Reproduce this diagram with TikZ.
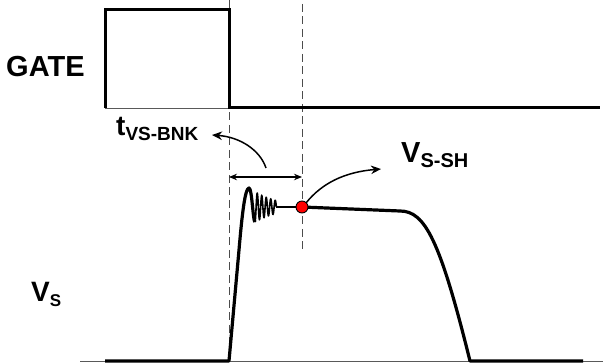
\documentclass[tikz,border=0pt]{standalone}
\usepackage{fontspec}
\setmainfont{Liberation Sans}
\usetikzlibrary{arrows.meta,positioning,calc}
\definecolor{dotcol}{RGB}{255,0,0}
\newcommand{\sublbl}[4]{{\fontsize{#3}{#3}\selectfont #1}\raisebox{-5pt}{\fontsize{#4}{#4}\selectfont #2}}

\begin{document}
\begin{tikzpicture}[x=1pt,y=-1pt,
  wave/.style={line width=3.2pt,line join=round},
  guide/.style={gray!60!black,dash pattern=on 8pt off 4.5pt,line width=0.9pt},
  base/.style={gray!70!black,line width=0.8pt},
  lbl/.style={font=\bfseries,inner sep=0pt,anchor=base west},
  ptr/.style={line width=1.5pt,-{Stealth[length=10pt,width=8.5pt]}}]
  \useasboundingbox (0,0) rectangle (603,363);
  % guides
  \draw[guide] (229,0) -- (229,361);
  \draw[guide] (302,4) -- (302,253);
  \draw[base] (105,108) -- (229,108);
  \draw[base] (80,361) -- (603,361);
  % gate pulse
  \draw[wave,line width=3pt,line join=miter] (105,108) -- (105,10) -- (229,10) -- (229,108) -- (600,108);
  % switch node voltage
  \draw[wave] (105,361) -- (229,361) -- (239,250) .. controls (242,215) and (245,188) .. (249,188)
    .. controls (252,188) and (253,222) .. (255,222);
  \draw[line width=1.6pt] plot[domain=0:21.375,samples=160] ({255+\x},{207+15*exp(-0.04*\x)*cos(360*\x/4.5)});
  \draw[wave,line width=2.6pt] (276.3,207) -- (302,207);
  \draw[wave] (302,207) -- (400,211) .. controls (425,211) and (440,240) .. (470,361) -- (583,361);
  \filldraw[fill=dotcol,draw=black,line width=0.9pt] (302,207) circle (6);
  % labels
  \node[lbl] (gate) at (6,77) {\fontsize{29}{29}\selectfont GATE};
  \node[lbl] (vs) at (31,302) {\sublbl{V}{S}{28}{17}};
  \node[lbl] (tbnk) at (116,136) {\sublbl{t}{VS-BNK}{28}{19}};
  \node[lbl] (vssh) at (401,163) {\sublbl{V}{S-SH}{29}{20}};
  % pointers
  \coordinate (bnkL) at (229,177);
  \coordinate (bnkR) at (302,177);
  \coordinate (bnkM) at (266,168);
  \coordinate (tbnkTip) at (212,135);
  \coordinate (shStart) at (306,203);
  \coordinate (shTip) at (381,169);
  \draw[line width=1.1pt,{Stealth[length=8pt,width=6.5pt]}-{Stealth[length=8pt,width=6.5pt]}] (bnkL) -- (bnkR);
  \draw[ptr] (bnkM) .. controls (260,150) and (240,137) .. (tbnkTip);
  \draw[ptr] (shStart) .. controls (322,183) and (345,172) .. (shTip);
\end{tikzpicture}
\end{document}
